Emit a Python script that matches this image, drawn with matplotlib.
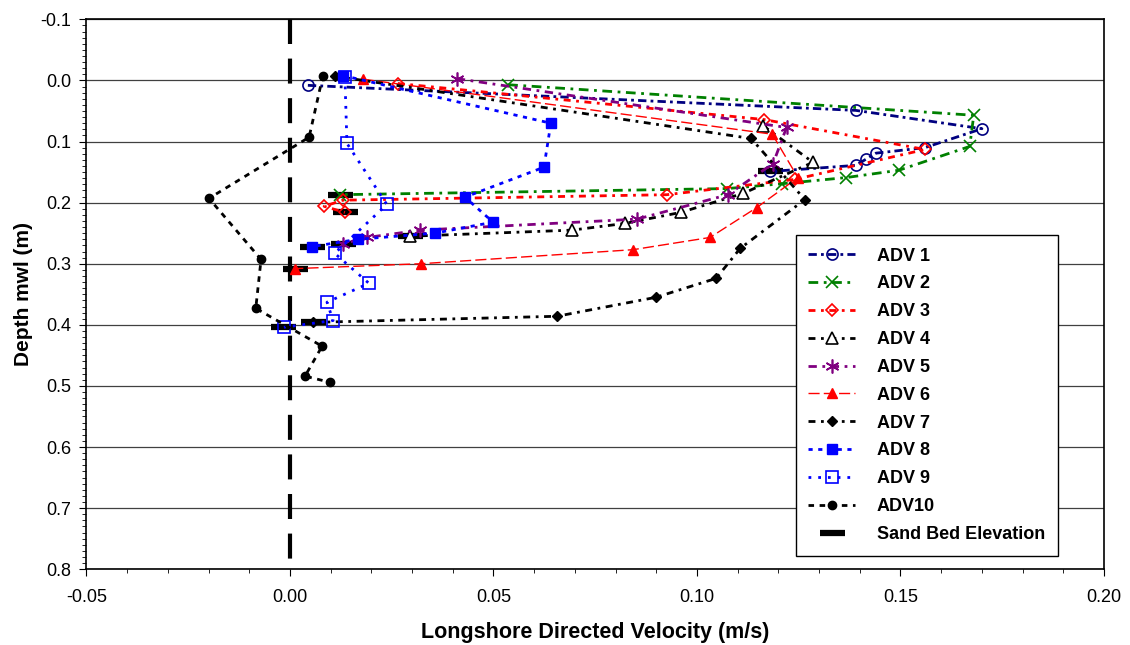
import matplotlib
matplotlib.use("Agg")
import matplotlib.pyplot as plt
from matplotlib.ticker import MultipleLocator

plt.rcParams['font.family'] = ['Liberation Sans', 'DejaVu Sans']

# velocity (m/s) and depth below mwl (m) for each ADV
adv1_v = [0.0044, 0.139, 0.170, 0.156, 0.144, 0.1415, 0.139, 0.118]
adv1_d = [0.008, 0.049, 0.079, 0.110, 0.119, 0.129, 0.139, 0.149]

adv2_v = [0.0536, 0.168, 0.167, 0.1496, 0.1366, 0.121, 0.1074, 0.0123]
adv2_d = [0.007, 0.057, 0.108, 0.147, 0.159, 0.169, 0.177, 0.187]

adv3_v = [0.0265, 0.1165, 0.156, 0.124, 0.0926, 0.013, 0.0084, 0.0135]
adv3_d = [0.005, 0.064, 0.113, 0.162, 0.187, 0.196, 0.206, 0.216]

adv4_v = [0.1162, 0.1285, 0.1113, 0.096, 0.0823, 0.0693, 0.0295]
adv4_d = [0.074, 0.134, 0.185, 0.216, 0.234, 0.245, 0.255]

adv5_v = [0.041, 0.122, 0.1187, 0.1076, 0.0853, 0.032, 0.019, 0.013]
adv5_d = [-0.003, 0.077, 0.136, 0.187, 0.227, 0.245, 0.257, 0.267]

adv6_v = [0.018, 0.1185, 0.1248, 0.1147, 0.1032, 0.0843, 0.0322, 0.0012]
adv6_d = [-0.002, 0.088, 0.159, 0.208, 0.257, 0.277, 0.300, 0.308]

adv7_v = [0.011, 0.1133, 0.1265, 0.1106, 0.1047, 0.0899, 0.0656, 0.0057]
adv7_d = [-0.007, 0.095, 0.195, 0.275, 0.324, 0.355, 0.386, 0.396]

adv8_v = [0.013, 0.0641, 0.0624, 0.043, 0.0499, 0.0356, 0.0167, 0.0054]
adv8_d = [-0.008, 0.070, 0.142, 0.191, 0.232, 0.250, 0.260, 0.272]

adv9_v = [0.0135, 0.014, 0.0238, 0.011, 0.0194, 0.0091, 0.0106, -0.0015]
adv9_d = [-0.006, 0.103, 0.203, 0.283, 0.332, 0.363, 0.393, 0.404]

adv10_v = [0.0081, 0.0047, -0.0199, -0.0071, -0.0084, 0.0079, 0.0037, 0.0098]
adv10_d = [-0.008, 0.093, 0.193, 0.293, 0.373, 0.435, 0.484, 0.494]

# sand bed elevation marks
bed_v = [0.118, 0.0123, 0.0135, 0.0295, 0.013, 0.0054, 0.0012, 0.0057, -0.0017]
bed_d = [0.149, 0.187, 0.216, 0.255, 0.267, 0.272, 0.308, 0.396, 0.403]

fig = plt.figure(figsize=(11.3, 6.45), dpi=100)
ax = fig.add_axes([0.0765, 0.1175, 0.9005, 0.8525])

# zero velocity line, drawn from the top down
ax.plot([0, 0], [-0.1, 0.8], color='black', lw=3, dashes=(6, 3.5), zorder=1)

ax.plot(bed_v, bed_d, ls='none', marker='_', ms=18, mew=4.5, color='black',
        zorder=2, label='Sand Bed Elevation')

ax.plot(adv1_v, adv1_d, color='#000080', lw=2, dashes=(3, 1.5, 1, 1.5),
        marker='o', ms=8, mfc='none', mew=1.2, label='ADV 1', zorder=3)
ax.plot(adv2_v, adv2_d, color='#008000', lw=2, dashes=(3.5, 2, 1, 2),
        marker='x', ms=8, mew=1.2, label='ADV 2', zorder=3)
ax.plot(adv3_v, adv3_d, color='#FF0000', lw=2, dashes=(2.5, 2, 1, 2),
        marker='D', ms=6, mfc='none', mew=1.2, label='ADV 3', zorder=3)
ax.plot(adv4_v, adv4_d, color='black', lw=2, dashes=(2.5, 2, 1, 2),
        marker='^', ms=8, mfc='white', mew=1.2, label='ADV 4', zorder=3)
ax.plot(adv5_v, adv5_d, color='#800080', lw=2, dashes=(3, 2, 1, 2),
        marker=(6, 2, 0), ms=10, mew=1.2, label='ADV 5', zorder=3)
ax.plot(adv6_v, adv6_d, color='#FF0000', lw=1, dashes=(8, 3),
        marker='^', ms=7, label='ADV 6', zorder=3)
ax.plot(adv7_v, adv7_d, color='black', lw=2, dashes=(2.5, 2, 1, 2),
        marker='D', ms=5, label='ADV 7', zorder=3)
ax.plot(adv8_v, adv8_d, color='#0000FF', lw=2, dashes=(1.5, 2),
        marker='s', ms=7, label='ADV 8', zorder=3)
ax.plot(adv9_v, adv9_d, color='#0000FF', lw=2, dashes=(1, 2.5),
        marker='s', ms=8, mfc='none', mew=1.2, label='ADV 9', zorder=3)
ax.plot(adv10_v, adv10_d, color='black', lw=2, dashes=(2, 2),
        marker='o', ms=6, label='ADV10', zorder=3)

ax.set_xlim(-0.05, 0.20)
ax.set_ylim(0.8, -0.1)
ax.xaxis.set_major_locator(MultipleLocator(0.05))
ax.xaxis.set_minor_locator(MultipleLocator(0.01))
ax.yaxis.set_major_locator(MultipleLocator(0.1))
ax.yaxis.set_minor_locator(MultipleLocator(0.01))
ax.xaxis.set_major_formatter(plt.FormatStrFormatter('%.2f'))
ax.yaxis.set_major_formatter(plt.FormatStrFormatter('%.1f'))
ax.tick_params(which='major', direction='out', length=5, labelsize=13)
ax.tick_params(axis='x', which='major', pad=9)
ax.tick_params(axis='y', which='major', pad=6)
ax.tick_params(which='minor', direction='out', length=3)
ax.grid(axis='y', which='major', color='#404040', lw=0.9)
ax.set_axisbelow(True)
for s in ax.spines.values():
    s.set_linewidth(1.2)

ax.set_xlabel('Longshore Directed Velocity (m/s)', fontsize=15.5,
              fontweight='bold', labelpad=12)
ax.set_ylabel('Depth mwl (m)', fontsize=15, fontweight='bold', labelpad=5)

h, l = ax.get_legend_handles_labels()
h = h[1:] + h[:1]
l = l[1:] + l[:1]
leg = ax.legend(h, l, loc='upper left', bbox_to_anchor=(0.697, 0.608),
                fancybox=False, edgecolor='black', framealpha=1,
                prop={'weight': 'bold', 'size': 13}, labelspacing=0.6,
                handlelength=2.6, borderpad=0.7, handletextpad=1.2,
                borderaxespad=0)
leg.get_frame().set_linewidth(1.0)

fig.savefig('out.png', dpi=100)
